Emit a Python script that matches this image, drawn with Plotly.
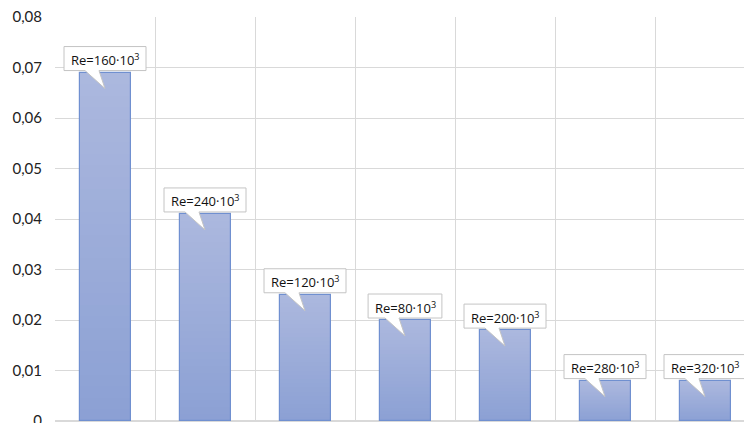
import plotly.graph_objects as go

# Values per Reynolds number
labels = ["Re=160·10<sup>3</sup>", "Re=240·10<sup>3</sup>", "Re=120·10<sup>3</sup>",
          "Re=80·10<sup>3</sup>", "Re=200·10<sup>3</sup>", "Re=280·10<sup>3</sup>",
          "Re=320·10<sup>3</sup>"]
values = [0.069, 0.041, 0.025, 0.020, 0.018, 0.008, 0.008]
y_tick_vals = [0, 0.01, 0.02, 0.03, 0.04, 0.05, 0.06, 0.07, 0.08]
y_tick_text = ["0", "0,01", "0,02", "0,03", "0,04", "0,05", "0,06", "0,07", "0,08"]

x = list(range(len(values)))
BAR_W = 0.51
TOP = (172, 184, 222)
BOTTOM = (139, 160, 212)
N_SEG = 30
FONT = "Lato, Open Sans, sans-serif"

fig = go.Figure()

# vertical gradient inside each bar, built from stacked slices
for k in range(N_SEG):
    t = (k + 0.5) / N_SEG
    c = tuple(round(BOTTOM[j] + (TOP[j] - BOTTOM[j]) * t) for j in range(3))
    fig.add_trace(go.Bar(
        x=x, y=[v / N_SEG for v in values], base=[v * k / N_SEG for v in values],
        width=BAR_W, marker=dict(color=f"rgb{c}", line=dict(width=0)),
        showlegend=False, hoverinfo="skip"))

# bar outlines
fig.add_trace(go.Bar(
    x=x, y=values, width=BAR_W,
    marker=dict(color="rgba(0,0,0,0)", line=dict(color="#7090d0", width=1.2)),
    showlegend=False, hovertemplate="%{y}<extra></extra>"))

# callout boxes with a pointer into each bar
for i, (lab, v) in enumerate(zip(labels, values)):
    n_chars = len(lab.replace("<sup>", "").replace("</sup>", ""))
    w = 8.2 * n_chars
    hl = w / 2
    path = (f"M {-hl},2 L {-20},2 L 0,-16 L {-6},2 L {hl},2 "
            f"L {hl},26 L {-hl},26 Z")
    fig.add_shape(type="path", xref="x", yref="y",
                  xsizemode="pixel", ysizemode="pixel",
                  xanchor=i, yanchor=v, path=path,
                  fillcolor="white", line=dict(color="#c4c4c4", width=1),
                  layer="above")
    fig.add_annotation(x=i, y=v, text=lab, showarrow=False,
                       yanchor="middle", yshift=13,
                       font=dict(family="Open Sans, sans-serif", size=13, color="#111"))

fig.update_layout(
    width=744, height=423,
    margin=dict(l=55, r=0, t=17, b=2),
    plot_bgcolor="white", paper_bgcolor="white",
    barmode="overlay", bargap=0,
    xaxis=dict(range=[-0.5, 6.39], tickvals=[i - 0.5 for i in range(8)],
               showticklabels=False, showgrid=True, gridcolor="#d9d9d9",
               gridwidth=1, zeroline=False, showline=False, ticks="",
               automargin=False),
    yaxis=dict(range=[0, 0.08], tickvals=y_tick_vals, ticktext=y_tick_text,
               showgrid=True, gridcolor="#d9d9d9", gridwidth=1,
               zeroline=True, zerolinecolor="#d9d9d9", showline=False,
               ticks="", ticklabelstandoff=12, ticklabeloverflow="allow",
               automargin=False,
               tickfont=dict(family=FONT, size=15, color="#222")),
)

fig.write_html("out.html")
